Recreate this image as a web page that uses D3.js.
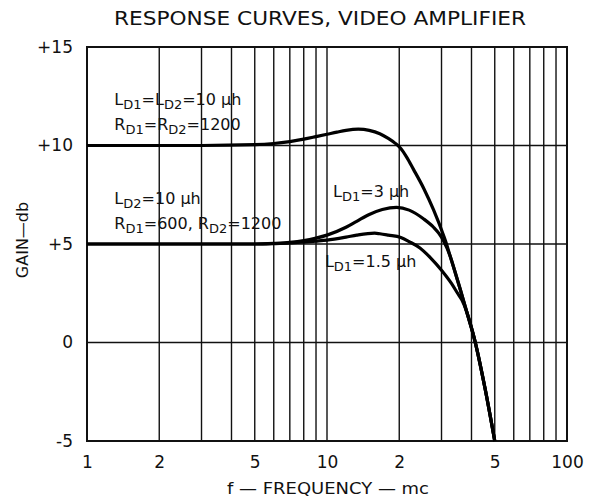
<!DOCTYPE html>
<html>
<head>
<meta charset="utf-8">
<script src="https://cdn.jsdelivr.net/npm/d3@7"></script>
<style>
  html, body { margin: 0; padding: 0; background: #fff; }
  svg { display: block; }
  text { font-family: "DejaVu Sans", "Liberation Sans", sans-serif; fill: #111; }
</style>
</head>
<body>
<svg id="chart" width="592" height="499"></svg>
<script>
// ---- data ----
const titleText = "RESPONSE CURVES, VIDEO AMPLIFIER";
const xTickValues = [1, 2, 5, 10, 20, 50, 100];
const xTickLabels = ["1", "2", "5", "10", "2", "5", "100"];
const yTickValues = [15, 10, 5, 0, -5];
const yTickLabels = ["+15", "+10", "+5", "0", "-5"];
const xGridValues = [2, 3, 4, 5, 6, 7, 8, 9, 10, 20, 30, 40, 50, 60, 70, 80, 90];
const yGridValues = [10, 5, 0];
const xTitle = "f — FREQUENCY — mc";
const yTitle = "GAIN—db";

// curve: L_D1 = L_D2 = 10 µh
const curveEqualL = [[1,10],[3,10],[5,10.04],[6,10.1],[7,10.2],[8,10.32],[9,10.45],[10,10.57],[11,10.68],[12,10.77],[13.5,10.83],[15,10.77],[16.6,10.6],[18,10.36],[19.2,10.12],[20.3,9.85],[21.5,9.4],[22.9,8.8],[25.3,7.82],[27.8,6.73],[30.6,5.43],[31.45,5.01],[32.5,4.43],[33.6,3.87],[35.8,2.75],[38.2,1.56],[41.4,0.05],[45.5,-2.3],[50,-5]];
// curve: L_D1 = 3 µh
const curveL3 = [[1,5],[5,5],[6,5.03],[7,5.08],[8,5.17],[9,5.3],[10,5.45],[12,5.85],[13.3,6.15],[15,6.5],[17,6.75],[19.5,6.86],[22,6.72],[25.3,6.27],[27.8,5.85],[29.2,5.55],[30.6,5.15],[32.5,4.43],[33.6,3.87],[35.8,2.75],[38.2,1.56],[41.4,0.05],[45.5,-2.3],[50,-5]];
// curve: L_D1 = 1.5 µh
const curveL15 = [[1,5],[5,5],[6,5.02],[7,5.05],[8,5.1],[9,5.15],[10,5.2],[12,5.35],[13.3,5.45],[15.8,5.55],[16.6,5.52],[18,5.45],[20.3,5.33],[22,5.12],[24.4,4.8],[27,4.3],[30,3.67],[33,3.0],[35,2.5],[36.5,2.15],[38.2,1.56],[41.4,0.05],[45.5,-2.3],[50,-5]];

// annotations (segments; second item 1 = subscript), anchored in data units
const annotations = [
  { f: 1.3,  db: 12.05, segs: [["L"],["D1",1],["=L"],["D2",1],["=10 µh"]] },
  { f: 1.3,  db: 10.79, segs: [["R"],["D1",1],["=R"],["D2",1],["=1200"]] },
  { f: 1.3,  db: 7.04,  segs: [["L"],["D2",1],["=10 µh"]] },
  { f: 1.3,  db: 5.77,  segs: [["R"],["D1",1],["=600, R"],["D2",1],["=1200"]] },
  { f: 10.6, db: 7.39,  segs: [["L"],["D1",1],["=3 µh"]] },
  { f: 9.8,  db: 3.83,  segs: [["L"],["D1",1],["=1.5 µh"]] }
];

// ---- layout ----
const svg = d3.select("#chart");
const plotL = 87, plotR = 567, plotT = 47, plotB = 441;
const x = d3.scaleLog().domain([1, 100]).range([plotL, plotR]);
const y = d3.scaleLinear().domain([-5, 15]).range([plotB, plotT]);

// grid
svg.append("g").selectAll("line").data(xGridValues).join("line")
  .attr("x1", d => x(d)).attr("x2", d => x(d))
  .attr("y1", plotT).attr("y2", plotB)
  .attr("stroke", "#111").attr("stroke-width", 1.4);
svg.append("g").selectAll("line").data(yGridValues).join("line")
  .attr("x1", plotL).attr("x2", plotR)
  .attr("y1", d => y(d)).attr("y2", d => y(d))
  .attr("stroke", "#111").attr("stroke-width", 1.4);

// border
svg.append("rect").attr("x", plotL).attr("y", plotT)
  .attr("width", plotR - plotL).attr("height", plotB - plotT)
  .attr("fill", "none").attr("stroke", "#111").attr("stroke-width", 2);

// curves
const line = d3.line().x(d => x(d[0])).y(d => y(d[1])).curve(d3.curveMonotoneX);
[curveEqualL, curveL3, curveL15].forEach(c => {
  svg.append("path").attr("d", line(c)).attr("fill", "none")
    .attr("stroke", "#000").attr("stroke-width", 3.2)
    .attr("stroke-linejoin", "round").attr("stroke-linecap", "butt");
});

// axes
const xAxis = d3.axisBottom(x).tickValues(xTickValues)
  .tickFormat((d, i) => xTickLabels[i]).tickSize(0).tickPadding(15);
const gx = svg.append("g").attr("transform", `translate(0,${plotB})`).call(xAxis);
gx.select(".domain").remove();
gx.selectAll("text").attr("font-size", 17).attr("fill", "#111")
  .attr("font-family", "DejaVu Sans, sans-serif");

const yAxis = d3.axisLeft(y).tickValues(yTickValues)
  .tickFormat((d, i) => yTickLabels[i]).tickSize(0).tickPadding(14);
const gy = svg.append("g").attr("transform", `translate(${plotL},0)`).call(yAxis);
gy.select(".domain").remove();
gy.selectAll("text").attr("font-size", 17).attr("fill", "#111")
  .attr("font-family", "DejaVu Sans, sans-serif");

// title
svg.append("text").attr("x", 320).attr("y", 25).attr("text-anchor", "middle")
  .attr("font-size", 19).attr("textLength", 412).attr("lengthAdjust", "spacingAndGlyphs")
  .text(titleText);

// axis titles
svg.append("text").attr("x", 328).attr("y", 494).attr("text-anchor", "middle")
  .attr("font-size", 16).attr("textLength", 202).attr("lengthAdjust", "spacingAndGlyphs")
  .text(xTitle);
svg.append("text").attr("transform", "translate(28,240) rotate(-90)")
  .attr("text-anchor", "middle").attr("font-size", 16)
  .text(yTitle);

// annotations
annotations.forEach(a => {
  const t = svg.append("text").attr("x", x(a.f)).attr("y", y(a.db)).attr("font-size", 16);
  let shifted = false;
  a.segs.forEach(s => {
    const ts = t.append("tspan").text(s[0]);
    if (s[1]) { ts.attr("font-size", 13).attr("dy", shifted ? 0 : 4); shifted = true; }
    else { ts.attr("dy", shifted ? -4 : 0); shifted = false; }
  });
});
</script>
</body>
</html>
